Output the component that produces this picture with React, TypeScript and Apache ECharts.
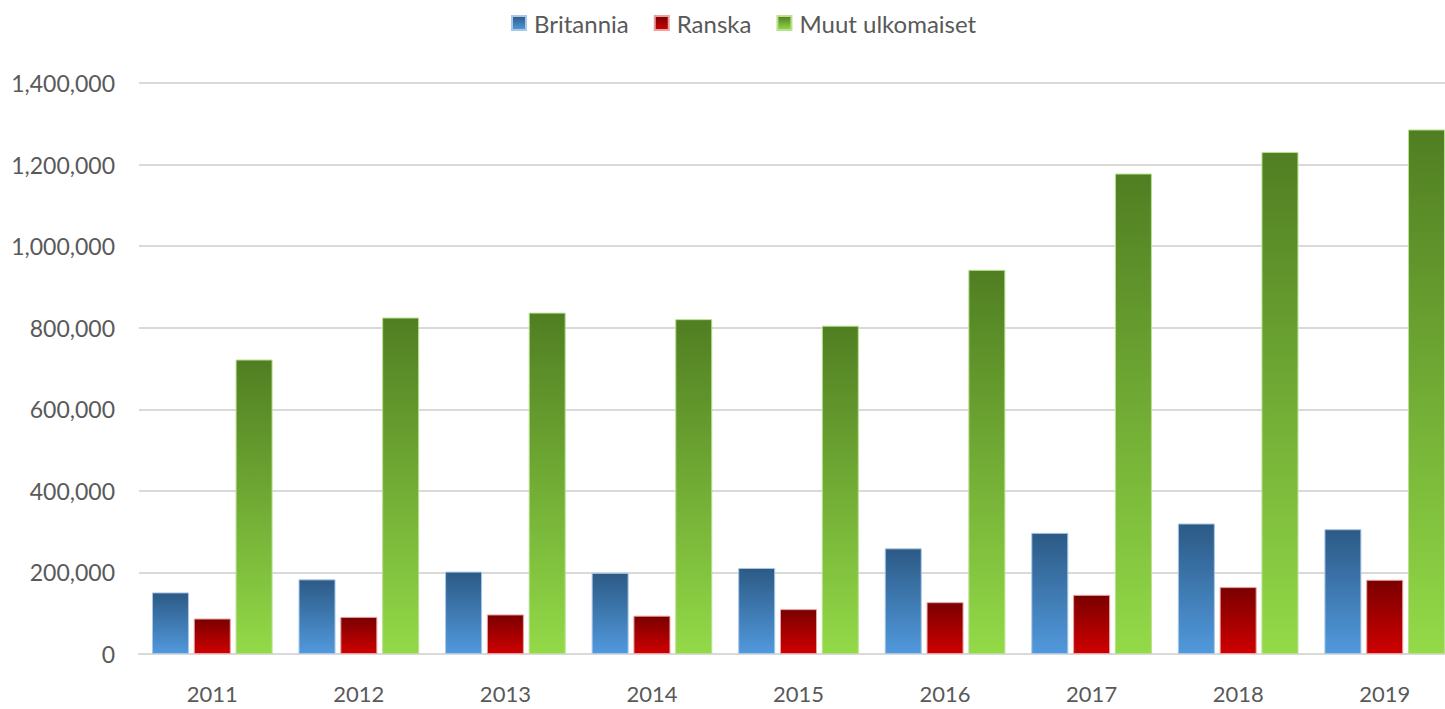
import React, { useEffect, useRef } from "react";
import * as echarts from "echarts";

const years = ["2011", "2012", "2013", "2014", "2015", "2016", "2017", "2018", "2019"];
const britannia = [151000, 183000, 202000, 199000, 211000, 259000, 297000, 320000, 306000];
const ranska = [87000, 91000, 97000, 94000, 110000, 127000, 145000, 164000, 182000];
const muut = [722000, 825000, 837000, 821000, 805000, 942000, 1178000, 1231000, 1286000];

const grad = (top: string, bottom: string) =>
  new echarts.graphic.LinearGradient(0, 0, 0, 1, [
    { offset: 0, color: top },
    { offset: 1, color: bottom },
  ]);

export default function App() {
  const ref = useRef<HTMLDivElement>(null);
  useEffect(() => {
    document.body.style.margin = "0";
    const chart = echarts.init(ref.current!, null, { renderer: "svg" });
    const font = "Lato, 'Open Sans', sans-serif";
    const mk = (name: string, data: number[], top: string, bottom: string, border: string) => ({
      name,
      type: "bar" as const,
      data,
      barWidth: 37,
      barGap: "13%",
      itemStyle: { color: grad(top, bottom), borderColor: border, borderWidth: 1 },
    });
    chart.setOption({
      animation: false,
      backgroundColor: "#ffffff",
      textStyle: { fontFamily: font },
      legend: {
        top: 6,
        left: 506,
        icon: "rect",
        itemWidth: 14,
        itemHeight: 14,
        itemGap: 25,
        textStyle: { fontSize: 24, color: "#595959", fontFamily: font, padding: [0, 0, 0, 3] },
        data: ["Britannia", "Ranska", "Muut ulkomaiset"],
      },
      grid: { left: 139, top: 83, width: 1319, height: 571, containLabel: false },
      xAxis: {
        type: "category",
        data: years,
        axisTick: { show: false },
        axisLine: { lineStyle: { color: "#d9d9d9", width: 2 } },
        axisLabel: { color: "#595959", fontSize: 22, margin: 28, fontFamily: font },
      },
      yAxis: {
        type: "value",
        min: 0,
        max: 1400000,
        interval: 200000,
        axisLine: { show: false },
        axisTick: { show: false },
        splitLine: { lineStyle: { color: "#d9d9d9", width: 2 } },
        axisLabel: {
          color: "#595959",
          fontSize: 23,
          margin: 24,
          fontFamily: font,
          formatter: (v: number) => v.toLocaleString("en-US"),
        },
      },
      series: [
        mk("Britannia", britannia, "#2c5a85", "#5199dd", "#a9c7e6"),
        mk("Ranska", ranska, "#7a0000", "#cf0000", "#e8a0a0"),
        mk("Muut ulkomaiset", muut, "#507e22", "#93da48", "#b9e08e"),
      ],
    });
    return () => chart.dispose();
  }, []);
  return (
    <div style={{ width: 1445, height: 709, overflow: "hidden", position: "relative" }}>
      <div ref={ref} style={{ width: 1480, height: 709 }} />
    </div>
  );
}
